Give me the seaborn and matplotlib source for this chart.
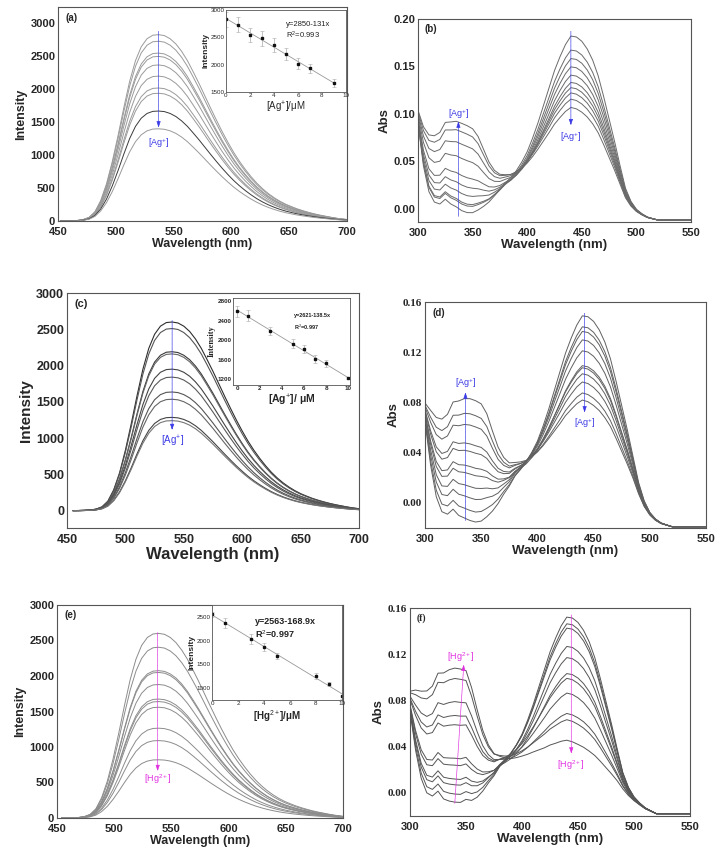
import numpy as np
import pandas as pd
import matplotlib
matplotlib.use('Agg')
import matplotlib.pyplot as plt
import seaborn as sns

# ---- emission spectra (a, c, e) ----
em_wl = np.arange(450, 701, 5)
# normalised emission profile, peak = 1000
em_profile = [0, 0.3, 1, 3, 8, 20, 50, 110, 200, 320,
              460, 610, 750, 860, 935, 978, 997, 1000, 995, 978,
              950, 910, 860, 800, 738, 672, 606, 542, 480, 422,
              368, 320, 277, 238, 203, 173, 147, 125, 106, 90,
              77, 65, 55, 46, 38, 31, 25, 19, 14, 10, 7]
peaks_a = [2830, 2730, 2550, 2500, 2370, 2200, 2020, 1940, 1670, 1400]
peaks_c = [2600, 2510, 2190, 2160, 1950, 1840, 1635, 1535, 1285, 1240]
peaks_e = [2600, 2405, 2075, 2050, 1880, 1675, 1640, 1560, 1265, 1090, 820]
shift_a, shift_c, shift_e = 2, 5, 4

# ---- calibration insets ----
ins_a_x = [0, 1, 2, 3, 4, 5, 6, 7, 9]
ins_a_y = [2830, 2730, 2540, 2480, 2360, 2200, 2020, 1930, 1660]
ins_a_err = [140, 140, 130, 130, 120, 110, 100, 90, 70]
ins_c_x = [0, 1, 3, 5, 6, 7, 8, 10]
ins_c_y = [2600, 2510, 2190, 1930, 1820, 1620, 1530, 1220]
ins_c_err = [110, 110, 80, 90, 80, 90, 70, 20]
ins_e_x = [0, 1, 3, 4, 5, 8, 9, 10]
ins_e_y = [2560, 2380, 2040, 1870, 1680, 1250, 1080, 820]
ins_e_err = [60, 110, 100, 90, 70, 60, 50, 60]

# ---- absorption spectra (b, d, f) ----
abs_wl = np.arange(300, 551, 5)
band440 = [0]*9 + [0.005, 0.01, 0.02, 0.03, 0.05, 0.08, 0.11, 0.15, 0.18, 0.22,
                   0.27, 0.33, 0.41, 0.50, 0.60, 0.70, 0.80, 0.88, 0.95, 1.0,
                   0.995, 0.97, 0.925, 0.86, 0.77, 0.65, 0.52, 0.39, 0.25, 0.13,
                   0.065, 0.03, 0.015, 0.007, 0.003] + [0]*7
band340 = [0.15, 0.45, 0.65, 0.76, 0.82, 0.88, 0.94, 0.98, 1.0, 1.0,
           0.97, 0.86, 0.68, 0.50, 0.36, 0.27, 0.22, 0.19, 0.17, 0.16,
           0.15, 0.135, 0.12, 0.10, 0.08, 0.065, 0.05, 0.04, 0.03, 0.02,
           0.01, 0.005] + [0]*19
base_b = [0.09, 0.045, 0.018, 0.007, 0.005, 0.010, 0.005, 0.002, -0.002, -0.005,
          -0.006, -0.005, -0.003, -0.002, -0.001] + [0]*23 + \
         [-0.002, -0.004, -0.006, -0.008, -0.01, -0.011, -0.012] + [-0.012]*6
base_d = [0.065, 0.03, 0.005, -0.007, -0.009, -0.005, -0.01, -0.012, -0.014, -0.016,
          -0.016, -0.014, -0.011, -0.008, -0.005, -0.003, -0.001] + [0]*20 + \
         [0.0, -0.003, -0.008, -0.012, -0.015, -0.017, -0.018] + [-0.019]*7
base_f = [0.07, 0.035, 0.01, -0.003, -0.006, -0.002, -0.009, -0.011, -0.012, -0.013,
          -0.011, -0.013, -0.011, -0.008, -0.005, -0.003, -0.001] + [0]*21 + \
         [-0.002, -0.005, -0.008, -0.011, -0.014, -0.016] + [-0.018]*7
h440_b = [0.182, 0.167, 0.158, 0.149, 0.140, 0.132, 0.126, 0.120, 0.113, 0.104]
h340_b = [0.0, 0.007, 0.009, 0.018, 0.027, 0.037, 0.055, 0.070, 0.083, 0.092]
h440_d = [0.149, 0.140, 0.136, 0.129, 0.120, 0.108, 0.106, 0.101, 0.094, 0.085, 0.079]
h340_d = [0.0, 0.008, 0.018, 0.027, 0.037, 0.043, 0.055, 0.061, 0.076, 0.085, 0.097]
h440_f = [0.152, 0.146, 0.142, 0.126, 0.116, 0.102, 0.097, 0.084, 0.066, 0.060, 0.042]
h340_f = [0.004, 0.011, 0.019, 0.024, 0.036, 0.042, 0.071, 0.079, 0.091, 0.111, 0.120]

BLUE = '#3a3ae6'
MAGENTA = '#e030e0'

sns.set_style('white')
plt.rcParams['font.family'] = ['Liberation Sans', 'DejaVu Sans']
plt.rcParams['mathtext.fontset'] = 'custom'
plt.rcParams['mathtext.rm'] = 'Liberation Sans'
plt.rcParams['mathtext.it'] = 'Liberation Sans:italic'
plt.rcParams['mathtext.bf'] = 'Liberation Sans:bold'


def draw_curves(ax, x_list, y_list, colors, lw=0.7):
    rows = []
    for i, (x, y) in enumerate(zip(x_list, y_list)):
        rows.append(pd.DataFrame({'wl': x, 'val': y, 'curve': i}))
    df = pd.concat(rows, ignore_index=True)
    sns.lineplot(data=df, x='wl', y='val', hue='curve', palette=colors,
                 estimator=None, sort=False, legend=False, lw=lw, ax=ax)
    ax.set_xlabel(''); ax.set_ylabel('')


def style_main(ax, xticks, yticks, ylabels, xlim, ylim, xlab_size, ylab, ylab_size,
               tick_size=8, yfamily='Liberation Sans'):
    ax.set_xlim(*xlim); ax.set_ylim(*ylim)
    ax.set_xticks(xticks, labels=[str(t) for t in xticks], fontweight='bold',
                  fontsize=tick_size)
    ax.set_yticks(yticks, labels=ylabels, fontweight='bold', fontsize=tick_size,
                  fontfamily=yfamily)
    ax.set_xticks([(a + b) / 2 for a, b in zip(xticks[:-1], xticks[1:])], minor=True)
    ax.set_yticks([(a + b) / 2 for a, b in zip(yticks[:-1], yticks[1:])], minor=True)
    ax.tick_params(direction='in', length=3, width=0.7, which='major')
    ax.tick_params(axis='x', pad=4)
    ax.tick_params(axis='y', pad=2)
    ax.tick_params(direction='in', length=1.8, width=0.6, which='minor')
    for s in ax.spines.values():
        s.set_color('#555555'); s.set_linewidth(0.8)
    ax.set_xlabel('Wavelength (nm)', fontweight='bold', fontsize=xlab_size, labelpad=1)
    ax.set_ylabel(ylab, fontweight='bold', fontsize=ylab_size, labelpad=2)


def ion_arrow(ax, x0, y0, x1, y1, color):
    ax.annotate('', xy=(x1, y1), xytext=(x0, y0),
                arrowprops=dict(arrowstyle='-|>,head_length=0.35,head_width=0.12',
                                color=color, lw=0.5, ls=(0, (1, 0.8)),
                                shrinkA=0, shrinkB=0))


def inset(fig, rect, xs, ys, errs, xlim, ylim, yticks, xlab, eq, r2, eq_pos,
          eq_size, eq_weight, ylab_family='Liberation Sans', tick_size=4.5,
          tick_weight='normal', xlab_size=7, xlab_weight='normal'):
    ax = fig.add_axes(rect)
    sns.regplot(x=xs, y=ys, ci=None, scatter=False, ax=ax,
                line_kws=dict(color='#999999', lw=0.6))
    ax.errorbar(xs, ys, yerr=errs, fmt='s', ms=1.6, color='#111111',
                ecolor='#aaaaaa', elinewidth=0.5, capsize=1.2, capthick=0.4)
    ax.set_xlim(*xlim); ax.set_ylim(*ylim)
    xt = [0, 2, 4, 6, 8, 10]
    ax.set_xticks(xt, labels=[str(t) for t in xt], fontsize=tick_size,
                  fontweight=tick_weight)
    ax.set_yticks(yticks, labels=[str(t) for t in yticks], fontsize=tick_size,
                  fontweight=tick_weight)
    ax.tick_params(direction='in', length=1.5, width=0.5, pad=1)
    for s in ax.spines.values():
        s.set_color('#555555'); s.set_linewidth(0.6)
    ax.set_xlabel(xlab, fontsize=xlab_size, fontweight=xlab_weight, labelpad=1)
    ax.set_ylabel('Intensity', fontsize=6, fontweight='bold', labelpad=1,
                  fontfamily=ylab_family)
    ax.text(eq_pos[0], eq_pos[1], eq, transform=ax.transAxes, fontsize=eq_size,
            fontweight=eq_weight, color='#222222')
    ax.text(eq_pos[0], eq_pos[1] - 0.15, r2, transform=ax.transAxes, fontsize=eq_size,
            fontweight=eq_weight, color='#222222')
    return ax


W, H = 722, 858
fig = plt.figure(figsize=(W / 100, H / 100), dpi=100)


def rect(x0, y0, x1, y1):
    return [x0 / W, 1 - y1 / H, (x1 - x0) / W, (y1 - y0) / H]


prof = np.array(em_profile) / 1000.0
abs_b440 = np.array(band440)
abs_b340 = np.array(band340)

# (a)
ax_a = fig.add_axes(rect(58, 7, 347, 221))
cols_a = ['#9a9a9a'] * len(peaks_a)
cols_a[8] = '#3a3a3a'
draw_curves(ax_a, [em_wl + shift_a] * len(peaks_a), [prof * p for p in peaks_a], cols_a)
style_main(ax_a, [450, 500, 550, 600, 650, 700], list(range(0, 3001, 500)),
           [str(t) for t in range(0, 3001, 500)], (450, 700), (0, 3250), 9, 'Intensity', 9)
ion_arrow(ax_a, 537, 2880, 537, 1420, BLUE)
ax_a.text(537, 1180, '[Ag$^{+}$]', color=BLUE, fontsize=6.5, ha='center', va='center')
ax_a.text(0.025, 0.95, '(a)', transform=ax_a.transAxes, fontsize=7, fontweight='bold',
          va='center')
inset(fig, rect(226, 10, 346, 92), ins_a_x, ins_a_y, ins_a_err, (0, 10), (1500, 3000),
      [1500, 2000, 2500, 3000], '[Ag$^{+}$]/μM', 'y=2850-131x', 'R$^{2}$=0.993',
      (0.5, 0.8), 5.5, 'normal')

# (b)
ax_b = fig.add_axes(rect(418, 19, 691, 222))
draw_curves(ax_b, [abs_wl] * len(h440_b),
            [h4 * abs_b440 + h3 * abs_b340 + np.array(base_b) for h4, h3 in zip(h440_b, h340_b)],
            ['#6a6a6a'] * len(h440_b))
yt_b = [0.0, 0.05, 0.10, 0.15, 0.20]
style_main(ax_b, [300, 350, 400, 450, 500, 550], yt_b, [f'{t:.2f}' for t in yt_b],
           (300, 550), (-0.014, 0.20), 9.5, 'Abs', 9.5)
ion_arrow(ax_b, 337, -0.008, 337, 0.092, BLUE)
ax_b.text(337, 0.1, '[Ag$^{+}$]', color=BLUE, fontsize=6.5, ha='center', va='center')
ion_arrow(ax_b, 440, 0.187, 440, 0.088, BLUE)
ax_b.text(440, 0.075, '[Ag$^{+}$]', color=BLUE, fontsize=6.5, ha='center', va='center')
ax_b.text(0.025, 0.95, '(b)', transform=ax_b.transAxes, fontsize=7, fontweight='bold',
          va='center')

# (c)
ax_c = fig.add_axes(rect(67, 293, 359, 528))
cols_c = ['#2e2e2e', '#555555', '#3a3a3a', '#666666', '#444444', '#5a5a5a',
          '#555555', '#666666', '#444444', '#777777']
draw_curves(ax_c, [em_wl + shift_c] * len(peaks_c), [prof * p for p in peaks_c], cols_c,
            lw=0.8)
style_main(ax_c, [450, 500, 550, 600, 650, 700], list(range(0, 3001, 500)),
           [str(t) for t in range(0, 3001, 500)], (450, 700), (-240, 3000), 12,
           'Intensity', 11, tick_size=9)
ion_arrow(ax_c, 540, 2620, 540, 1110, BLUE)
ax_c.text(540, 960, '[Ag$^{+}$]', color=BLUE, fontsize=7, ha='center', va='center')
ax_c.text(0.025, 0.955, '(c)', transform=ax_c.transAxes, fontsize=8, fontweight='bold',
          va='center')
inset(fig, rect(233, 298, 350, 385), ins_c_x, ins_c_y, ins_c_err, (-0.36, 10.15),
      (1084, 2870), [1200, 1600, 2000, 2400, 2800], '[Ag$^{+}$]/ μM', 'y=2621-138.5x',
      'R$^{2}$=0.997', (0.52, 0.78), 4, 'bold', ylab_family='Liberation Serif',
      tick_size=4.5, tick_weight='bold', xlab_size=7.5, xlab_weight='bold')

# (d)
ax_d = fig.add_axes(rect(425, 302, 706, 528))
draw_curves(ax_d, [abs_wl] * len(h440_d),
            [h4 * abs_b440 + h3 * abs_b340 + np.array(base_d) for h4, h3 in zip(h440_d, h340_d)],
            ['#606060'] * len(h440_d))
yt_d = [0.0, 0.04, 0.08, 0.12, 0.16]
style_main(ax_d, [300, 350, 400, 450, 500, 550], yt_d, [f'{t:.2f}' for t in yt_d],
           (300, 550), (-0.02, 0.16), 9.5, 'Abs', 9.5, yfamily='Liberation Serif')
ion_arrow(ax_d, 336, -0.014, 336, 0.088, BLUE)
ax_d.text(336, 0.0955, '[Ag$^{+}$]', color=BLUE, fontsize=6.5, ha='center', va='center')
ion_arrow(ax_d, 442, 0.151, 442, 0.072, BLUE)
ax_d.text(442, 0.0635, '[Ag$^{+}$]', color=BLUE, fontsize=6.5, ha='center', va='center')
ax_d.text(0.025, 0.95, '(d)', transform=ax_d.transAxes, fontsize=7, fontweight='bold',
          va='center')

# (e)
ax_e = fig.add_axes(rect(57, 605, 343, 818))
draw_curves(ax_e, [em_wl + shift_e] * len(peaks_e), [prof * p for p in peaks_e],
            ['#8c8c8c'] * len(peaks_e))
style_main(ax_e, [450, 500, 550, 600, 650, 700], list(range(0, 3001, 500)),
           [str(t) for t in range(0, 3001, 500)], (450, 700), (0, 3000), 9, 'Intensity', 9)
ion_arrow(ax_e, 538, 2610, 538, 660, MAGENTA)
ax_e.text(538, 545, '[Hg$^{2+}$]', color=MAGENTA, fontsize=6.5, ha='center', va='center')
ax_e.text(0.025, 0.955, '(e)', transform=ax_e.transAxes, fontsize=7, fontweight='bold',
          va='center')
inset(fig, rect(212, 605, 342, 700), ins_e_x, ins_e_y, ins_e_err, (0, 10), (740, 2760),
      [1000, 1500, 2000, 2500], '[Hg$^{2+}$]/μM', 'y=2563-168.9x', 'R$^{2}$=0.997',
      (0.33, 0.8), 6.5, 'bold', xlab_size=7, xlab_weight='bold')

# (f)
ax_f = fig.add_axes(rect(410, 608, 690, 816))
draw_curves(ax_f, [abs_wl] * len(h440_f),
            [h4 * abs_b440 + h3 * abs_b340 + np.array(base_f) for h4, h3 in zip(h440_f, h340_f)],
            ['#555555'] * len(h440_f))
style_main(ax_f, [300, 350, 400, 450, 500, 550], yt_d, [f'{t:.2f}' for t in yt_d],
           (300, 550), (-0.02, 0.16), 9.5, 'Abs', 9.5, yfamily='Liberation Serif')
ion_arrow(ax_f, 340, -0.009, 348, 0.111, MAGENTA)
ax_f.text(345, 0.1175, '[Hg$^{2+}$]', color=MAGENTA, fontsize=6.5, ha='center', va='center')
ion_arrow(ax_f, 444, 0.154, 444, 0.034, MAGENTA)
ax_f.text(444, 0.024, '[Hg$^{2+}$]', color=MAGENTA, fontsize=6.5, ha='center', va='center')
ax_f.text(0.025, 0.95, '(f)', transform=ax_f.transAxes, fontsize=7, fontweight='bold',
          va='center', fontfamily='Liberation Serif')

fig.savefig('out.png', dpi=100)
